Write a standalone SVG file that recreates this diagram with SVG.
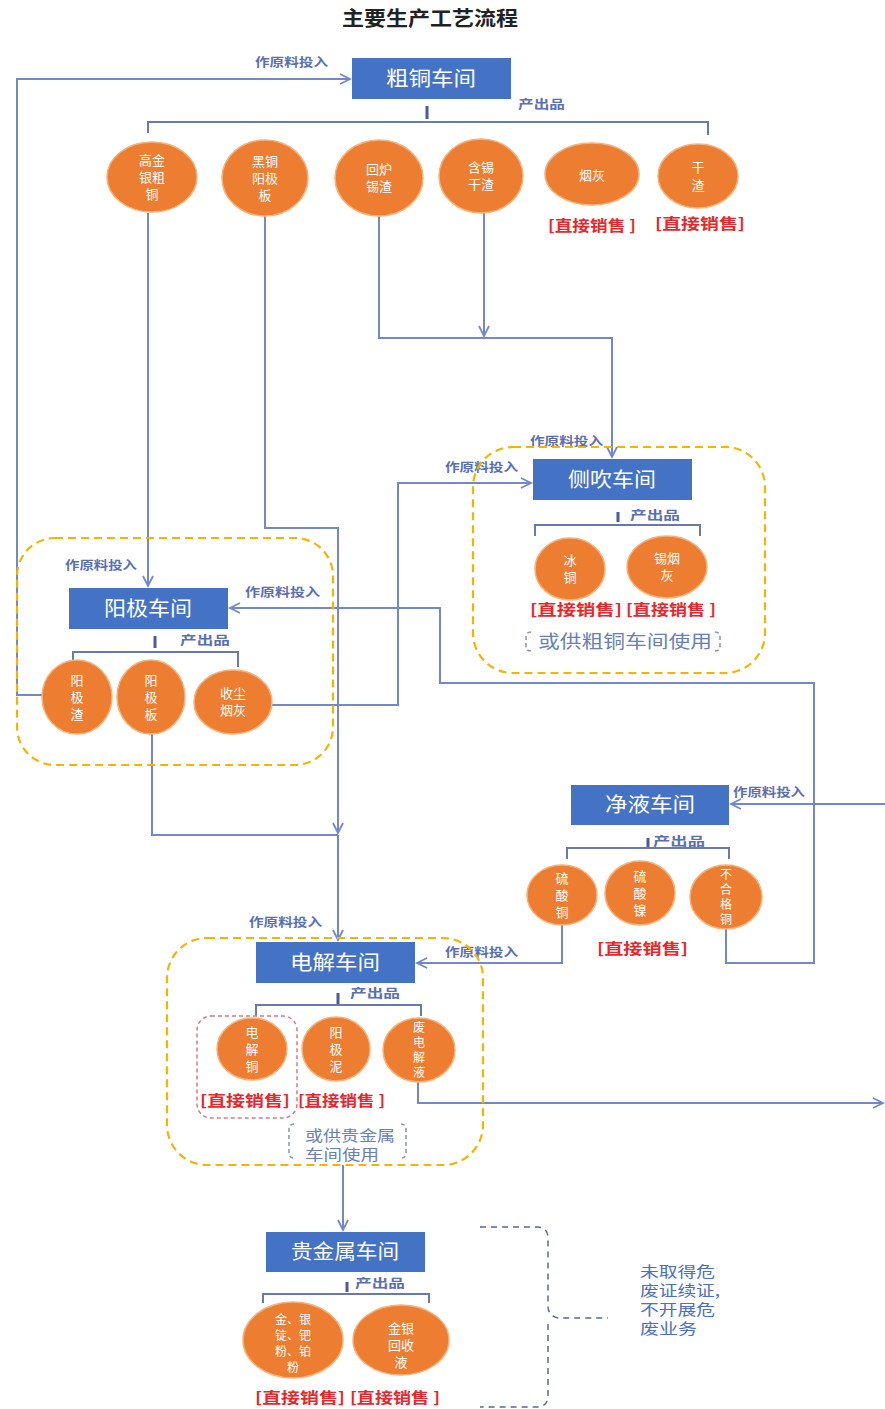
<svg xmlns="http://www.w3.org/2000/svg" width="885" height="1409" viewBox="0 0 885 1409">
<style>
text{font-family:"Noto Sans CJK SC","Noto Sans",sans-serif}
.title{font-size:20px;font-weight:bold;fill:#222}
.box{fill:#4472c4}
.bt{font-size:20px;fill:#fff;text-anchor:middle}
.lab{font-size:12px;font-weight:bold;fill:#5b6fb5}
.circ{fill:#ed7d31;stroke:#f6b27a;stroke-width:1.5}
.ct{font-size:13px;fill:#fff;text-anchor:middle}
.ct4{font-size:12px;fill:#fff;text-anchor:middle}
.red{font-size:15px;font-weight:bold;fill:#e8262b}
.alt{font-size:18px;fill:#6a7fb8}
.alt2{font-size:15px;fill:#6a7fb8}
.ln{fill:none;stroke:#7388c8;stroke-width:2}
.br{fill:none;stroke:#6a7aa8;stroke-width:2}
.stem{stroke:#4a5a9a;stroke-width:3}
.grp{fill:none;stroke:#f5b400;stroke-width:2.2;stroke-dasharray:8,5}
.gb{fill:none;stroke:#8a94a8;stroke-width:1.5;stroke-dasharray:4,3}
.note{font-size:15px;fill:#4a6fc4}
</style>
<defs>
<marker id="ah" markerUnits="userSpaceOnUse" markerWidth="14" markerHeight="14" refX="11" refY="6" orient="auto">
<path d="M1,1 L11,6 L1,11" fill="none" stroke="#7388c8" stroke-width="1.8"/>
</marker>
</defs>
<rect width="885" height="1409" fill="#fff"/>
<text class="title" x="342" y="26" textLength="176" lengthAdjust="spacingAndGlyphs">主要生产工艺流程</text>

<g id="connectors">
<path class="ln" d="M43,695 H17 V79 H350" marker-end="url(#ah)"/>
<path class="ln" d="M148,213 V586" marker-end="url(#ah)"/>
<path class="ln" d="M265,216 V528 H338 V833" marker-end="url(#ah)"/>
<path class="ln" d="M379,216 V338 H612 V457" marker-end="url(#ah)"/>
<path class="ln" d="M484,213 V336" marker-end="url(#ah)"/>
<path class="ln" d="M272,705 H398 V483 H531" marker-end="url(#ah)"/>
<path class="ln" d="M726,929 V963 H814 V683 H440 V608 H230" marker-end="url(#ah)"/>
<path class="ln" d="M152,734 V835 H338"/>
<path class="ln" d="M338,835 V940" marker-end="url(#ah)"/>
<path class="ln" d="M562,925 V963 H417" marker-end="url(#ah)"/>
<path class="ln" d="M885,804 H731" marker-end="url(#ah)"/>
<path class="ln" d="M418,1082 V1103 H883" marker-end="url(#ah)"/>
<path class="ln" d="M343,1165 V1230" marker-end="url(#ah)"/>
<text class="lab" x="255" y="67" textLength="73" lengthAdjust="spacingAndGlyphs">作原料投入</text>
<text class="lab" x="530" y="446" textLength="73" lengthAdjust="spacingAndGlyphs">作原料投入</text>
<text class="lab" x="445" y="472" textLength="73" lengthAdjust="spacingAndGlyphs">作原料投入</text>
<text class="lab" x="65" y="570" textLength="72" lengthAdjust="spacingAndGlyphs">作原料投入</text>
<text class="lab" x="245" y="597" textLength="75" lengthAdjust="spacingAndGlyphs">作原料投入</text>
<text class="lab" x="733" y="797" textLength="72" lengthAdjust="spacingAndGlyphs">作原料投入</text>
<text class="lab" x="249" y="927" textLength="73" lengthAdjust="spacingAndGlyphs">作原料投入</text>
<text class="lab" x="445" y="957" textLength="73" lengthAdjust="spacingAndGlyphs">作原料投入</text>
</g>

<g id="group-cechui"><rect class="grp" x="473" y="447" width="292" height="226" rx="40"/></g>
<g id="group-yangji"><rect class="grp" x="17" y="538" width="316" height="227" rx="38"/></g>
<g id="group-dianjie"><rect class="grp" x="167" y="938" width="316" height="227" rx="40"/></g>

<g id="node-cutong">
<rect class="box" x="352" y="58" width="159" height="41"/>
<text class="bt" x="431" y="86" textLength="90" lengthAdjust="spacingAndGlyphs">粗铜车间</text>
<line class="stem" x1="427" y1="106" x2="427" y2="119"/>
<path class="br" d="M148,133 V122 H708 V135"/>
<text class="lab" x="518" y="109" textLength="47" lengthAdjust="spacingAndGlyphs">产出品</text>
</g>
<g id="p-gaojin"><ellipse class="circ" cx="152" cy="177" rx="45" ry="35"/>
<text class="ct" x="152" y="165">高金</text><text class="ct" x="152" y="182">银粗</text><text class="ct" x="152" y="199">铜</text></g>
<g id="p-heitong"><ellipse class="circ" cx="265" cy="178" rx="43" ry="38"/>
<text class="ct" x="265" y="166">黑铜</text><text class="ct" x="265" y="183">阳极</text><text class="ct" x="265" y="200">板</text></g>
<g id="p-huilu"><ellipse class="circ" cx="379" cy="178" rx="44" ry="38"/>
<text class="ct" x="379" y="174">回炉</text><text class="ct" x="379" y="191">锡渣</text></g>
<g id="p-hanxi"><ellipse class="circ" cx="481" cy="176" rx="42" ry="37"/>
<text class="ct" x="481" y="172">含锡</text><text class="ct" x="481" y="189">干渣</text></g>
<g id="p-yanhui"><ellipse class="circ" cx="592" cy="174" rx="47" ry="31"/>
<text class="ct" x="592" y="180">烟灰</text>
<text class="red" x="548" y="231" textLength="88" lengthAdjust="spacingAndGlyphs">[直接销售 ]</text></g>
<g id="p-ganzha"><ellipse class="circ" cx="698" cy="176" rx="40" ry="32"/>
<text class="ct" x="698" y="172">干</text><text class="ct" x="698" y="190">渣</text>
<text class="red" x="655" y="229" textLength="90" lengthAdjust="spacingAndGlyphs">[直接销售]</text></g>

<g id="node-cechui">
<rect class="box" x="533" y="459" width="159" height="41"/>
<text class="bt" x="612" y="487" textLength="88" lengthAdjust="spacingAndGlyphs">侧吹车间</text>
<line class="stem" x1="618" y1="512" x2="618" y2="522"/>
<path class="br" d="M535,536 V525 H700 V536"/>
<text class="lab" x="630" y="520" textLength="50" lengthAdjust="spacingAndGlyphs">产出品</text>
</g>
<g id="p-bingtong"><ellipse class="circ" cx="570" cy="569" rx="35" ry="31"/>
<text class="ct" x="570" y="565">冰</text><text class="ct" x="570" y="582">铜</text>
<text class="red" x="530" y="615" textLength="92" lengthAdjust="spacingAndGlyphs">[直接销售]</text></g>
<g id="p-xiyanhui"><ellipse class="circ" cx="667" cy="567" rx="40" ry="31"/>
<text class="ct" x="667" y="563">锡烟</text><text class="ct" x="667" y="580">灰</text>
<text class="red" x="626" y="615" textLength="90" lengthAdjust="spacingAndGlyphs">[直接销售 ]</text></g>
<g id="alt-cechui">
<path class="gb" d="M531,632 Q526,632 526,637 V646 Q526,651 531,651"/>
<path class="gb" d="M715,632 Q720,632 720,637 V646 Q720,651 715,651"/>
<text class="alt" x="538" y="648" textLength="174" lengthAdjust="spacingAndGlyphs">或供粗铜车间使用</text>
</g>

<g id="node-yangji">
<rect class="box" x="69" y="588" width="159" height="41"/>
<text class="bt" x="148" y="616" textLength="88" lengthAdjust="spacingAndGlyphs">阳极车间</text>
<line class="stem" x1="155" y1="636" x2="155" y2="648"/>
<path class="br" d="M73,667 V652 H238 V667"/>
<text class="lab" x="180" y="645" textLength="50" lengthAdjust="spacingAndGlyphs">产出品</text>
</g>
<g id="p-yangjizha"><ellipse class="circ" cx="77" cy="697" rx="35" ry="37"/>
<text class="ct" x="77" y="685">阳</text><text class="ct" x="77" y="702">极</text><text class="ct" x="77" y="719">渣</text></g>
<g id="p-yangjiban"><ellipse class="circ" cx="151" cy="697" rx="34" ry="37"/>
<text class="ct" x="151" y="685">阳</text><text class="ct" x="151" y="702">极</text><text class="ct" x="151" y="719">板</text></g>
<g id="p-shouchen"><ellipse class="circ" cx="233" cy="702" rx="39" ry="32"/>
<text class="ct" x="233" y="698">收尘</text><text class="ct" x="233" y="715">烟灰</text></g>

<g id="node-jingye">
<rect class="box" x="571" y="785" width="158" height="40"/>
<text class="bt" x="650" y="812" textLength="90" lengthAdjust="spacingAndGlyphs">净液车间</text>
<line class="stem" x1="648" y1="838" x2="648" y2="848"/>
<path class="br" d="M567,859 V848 H729 V859"/>
<text class="lab" x="653" y="846" textLength="52" lengthAdjust="spacingAndGlyphs">产出品</text>
</g>
<g id="p-liusuantong"><ellipse class="circ" cx="562" cy="895" rx="35" ry="30"/>
<text class="ct" x="562" y="883">硫</text><text class="ct" x="562" y="900">酸</text><text class="ct" x="562" y="917">铜</text></g>
<g id="p-liusuannie"><ellipse class="circ" cx="640" cy="893" rx="35" ry="32"/>
<text class="ct" x="640" y="881">硫</text><text class="ct" x="640" y="898">酸</text><text class="ct" x="640" y="915">镍</text>
<text class="red" x="597" y="954" textLength="91" lengthAdjust="spacingAndGlyphs">[直接销售]</text></g>
<g id="p-buhege"><ellipse class="circ" cx="726" cy="897" rx="36" ry="32"/>
<text class="ct4" x="726" y="879">不</text><text class="ct4" x="726" y="894">合</text><text class="ct4" x="726" y="909">格</text><text class="ct4" x="726" y="924">铜</text></g>

<g id="node-dianjie">
<rect class="box" x="256" y="942" width="159" height="41"/>
<text class="bt" x="335" y="970" textLength="90" lengthAdjust="spacingAndGlyphs">电解车间</text>
<line class="stem" x1="338" y1="993" x2="338" y2="1004"/>
<path class="br" d="M256,1016 V1005 H421 V1016"/>
<text class="lab" x="350" y="998" textLength="50" lengthAdjust="spacingAndGlyphs">产出品</text>
</g>
<g id="p-dianjietong">
<rect x="197" y="1016" width="100" height="102" rx="14" fill="none" stroke="#d87a80" stroke-width="1.5" stroke-dasharray="4,3"/>
<ellipse class="circ" cx="252" cy="1049" rx="35" ry="31"/>
<text class="ct" x="252" y="1037">电</text><text class="ct" x="252" y="1054">解</text><text class="ct" x="252" y="1071">铜</text>
<text class="red" x="200" y="1106" textLength="90" lengthAdjust="spacingAndGlyphs">[直接销售]</text></g>
<g id="p-yangjini"><ellipse class="circ" cx="336" cy="1049" rx="34" ry="32"/>
<text class="ct" x="336" y="1037">阳</text><text class="ct" x="336" y="1054">极</text><text class="ct" x="336" y="1071">泥</text>
<text class="red" x="298" y="1106" textLength="87" lengthAdjust="spacingAndGlyphs">[直接销售 ]</text></g>
<g id="p-feidianjieye"><ellipse class="circ" cx="419" cy="1050" rx="36" ry="32"/>
<text class="ct4" x="419" y="1032">废</text><text class="ct4" x="419" y="1047">电</text><text class="ct4" x="419" y="1062">解</text><text class="ct4" x="419" y="1077">液</text></g>
<g id="alt-dianjie">
<path class="gb" d="M294,1124 Q289,1124 289,1129 V1153 Q289,1158 294,1158"/>
<path class="gb" d="M401,1124 Q406,1124 406,1129 V1153 Q406,1158 401,1158"/>
<text class="alt2" x="305" y="1141" textLength="90" lengthAdjust="spacingAndGlyphs">或供贵金属</text>
<text class="alt2" x="305" y="1160" textLength="74" lengthAdjust="spacingAndGlyphs">车间使用</text>
</g>

<g id="node-guijinshu">
<rect class="box" x="266" y="1232" width="159" height="40"/>
<text class="bt" x="345" y="1259" textLength="108" lengthAdjust="spacingAndGlyphs">贵金属车间</text>
<line class="stem" x1="347" y1="1282" x2="347" y2="1292"/>
<path class="br" d="M263,1303 V1294 H429 V1303"/>
<text class="lab" x="355" y="1288" textLength="50" lengthAdjust="spacingAndGlyphs">产出品</text>
</g>
<g id="p-jinyin"><ellipse class="circ" cx="293" cy="1340" rx="50" ry="38"/>
<text class="ct4" x="293" y="1324">金、银</text><text class="ct4" x="293" y="1340">锭、钯</text><text class="ct4" x="293" y="1356">粉、铂</text><text class="ct4" x="293" y="1372">粉</text>
<text class="red" x="255" y="1403" textLength="90" lengthAdjust="spacingAndGlyphs">[直接销售]</text></g>
<g id="p-huishouye"><ellipse class="circ" cx="401" cy="1340" rx="48" ry="35"/>
<text class="ct" x="401" y="1333">金银</text><text class="ct" x="401" y="1350">回收</text><text class="ct" x="401" y="1367">液</text>
<text class="red" x="350" y="1403" textLength="90" lengthAdjust="spacingAndGlyphs">[直接销售 ]</text></g>

<g id="note">
<path d="M480,1227 H538 Q548,1228 548,1238 V1306 Q548,1316 558,1318 H608 M548,1324 V1396 Q548,1406 538,1407 H480" fill="none" stroke="#5a6a8a" stroke-width="1.5" stroke-dasharray="6,5"/>
<text class="note" x="640" y="1277" textLength="75" lengthAdjust="spacingAndGlyphs">未取得危</text>
<text class="note" x="640" y="1296" textLength="80" lengthAdjust="spacingAndGlyphs">废证续证,</text>
<text class="note" x="640" y="1315" textLength="75" lengthAdjust="spacingAndGlyphs">不开展危</text>
<text class="note" x="640" y="1334" textLength="57" lengthAdjust="spacingAndGlyphs">废业务</text>
</g>
</svg>
